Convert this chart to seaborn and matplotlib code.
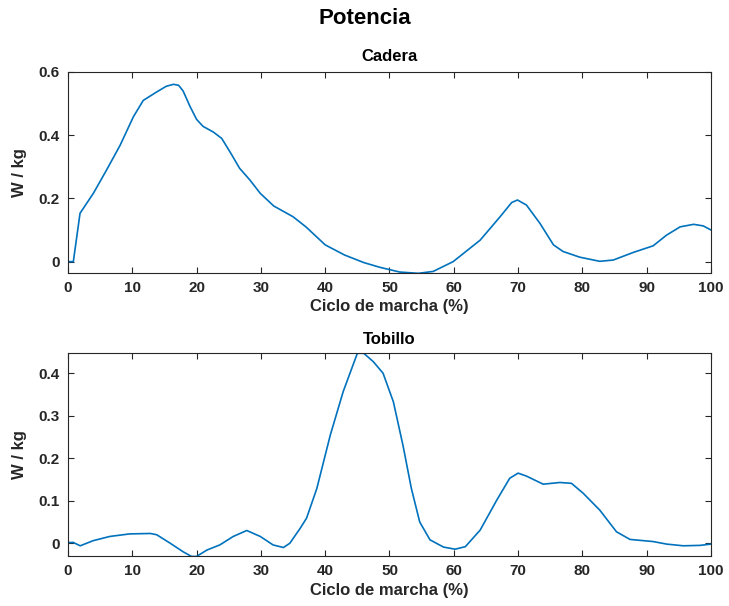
import matplotlib
matplotlib.use("Agg")
import matplotlib.pyplot as plt
import seaborn as sns
import pandas as pd

# Cadera (hip) power
cadera_x = [0, 0.83, 1.87, 3.94, 6.0, 8.1, 10.16, 11.7, 13.8, 15.3, 16.4, 17.2, 17.9, 19.0, 20.0, 21.0, 22.6,
            23.9, 25.2, 26.7, 28.3, 29.9, 32, 35, 37, 40, 43, 46, 48.5, 51.6, 54.5, 56.8, 59.9, 64.1, 67.2,
            69.0, 69.9, 71.3, 73.4, 75.5, 77.0, 79.6, 82.7, 84.8, 87.9, 91.0, 93.1, 95.2, 97.3, 98.8, 100]
cadera_y = [0.0, 0.0, 0.153, 0.216, 0.29, 0.368, 0.458, 0.51, 0.537, 0.555, 0.561, 0.558, 0.54, 0.49, 0.45,
            0.428, 0.41, 0.39, 0.347, 0.295, 0.258, 0.216, 0.176, 0.142, 0.11, 0.053, 0.021, -0.003, -0.018,
            -0.033, -0.037, -0.031, 0.0, 0.068, 0.142, 0.187, 0.195, 0.179, 0.121, 0.053, 0.032, 0.014, 0.001,
            0.005, 0.029, 0.05, 0.084, 0.11, 0.118, 0.113, 0.10]

# Tobillo (ankle) power
tobillo_x = [0, 0.8, 1.9, 3.9, 6.5, 9.6, 12.8, 13.8, 15.9, 17.9, 19.2, 20.0, 21.6, 23.6, 25.7, 27.8, 29.9,
             31.9, 33.5, 34.5, 36.1, 37.1, 38.7, 40.8, 42.8, 45.0, 46.0, 47.5, 49.0, 50.6, 52.1, 53.4, 54.7,
             56.3, 58.4, 60.2, 61.8, 64.1, 66.7, 68.7, 70.0, 71.3, 73.9, 76.5, 78.3, 80.1, 82.7, 85.3, 87.4,
             91.0, 93.1, 95.7, 98.3, 100]
tobillo_y = [0.0015, 0.002, -0.006, 0.006, 0.016, 0.022, 0.023, 0.02, 0.0, -0.02, -0.031, -0.031, -0.016,
             -0.004, 0.016, 0.03, 0.016, -0.004, -0.01, 0.0, 0.035, 0.059, 0.129, 0.255, 0.357, 0.447, 0.447,
             0.427, 0.40, 0.333, 0.23, 0.129, 0.05, 0.008, -0.009, -0.014, -0.008, 0.031, 0.102, 0.153, 0.165,
             0.158, 0.139, 0.143, 0.141, 0.118, 0.078, 0.027, 0.009, 0.004, -0.002, -0.006, -0.005, -0.002]

titles = ["Cadera", "Tobillo"]
yticks_top = [0, 0.2, 0.4, 0.6]
yticks_bot = [0, 0.1, 0.2, 0.3, 0.4]
xticks = [0, 10, 20, 30, 40, 50, 60, 70, 80, 90, 100]

sns.set_style("ticks")
plt.rcParams["font.family"] = ["Liberation Sans", "DejaVu Sans"]
plt.rcParams["font.weight"] = "bold"

dark = "#262626"
line_color = "#0072BD"

fig = plt.figure(figsize=(7.29, 6.06), dpi=100)
ax1 = fig.add_axes([68 / 729, 1 - 273 / 606, (711 - 68) / 729, (273 - 72) / 606])
ax2 = fig.add_axes([68 / 729, 1 - 556 / 606, (711 - 68) / 729, (556 - 353.3) / 606])

df1 = pd.DataFrame({"x": cadera_x, "y": cadera_y})
df2 = pd.DataFrame({"x": tobillo_x, "y": tobillo_y})

sns.lineplot(data=df1, x="x", y="y", ax=ax1, color=line_color, linewidth=1.2)
sns.lineplot(data=df2, x="x", y="y", ax=ax2, color=line_color, linewidth=1.2)

ax1.set_ylim(-0.036, 0.6)
ax2.set_ylim(-0.030, 0.447)
ax1.set_yticks(yticks_top)
ax1.set_yticklabels(["0", "0.2", "0.4", "0.6"])
ax2.set_yticks(yticks_bot)
ax2.set_yticklabels(["0", "0.1", "0.2", "0.3", "0.4"])

for ax, t, pad in zip([ax1, ax2], titles, [8, 7]):
    ax.set_xlim(0, 100)
    ax.set_xticks(xticks)
    ax.set_title(t, fontsize=12, fontweight="bold", color="black", pad=pad)
    ax.set_xlabel("Ciclo de marcha (%)", fontsize=12, fontweight="bold", color=dark, labelpad=3)
    ax.set_ylabel("W / kg", fontsize=12, fontweight="bold", color=dark, labelpad=8)
    ax.tick_params(direction="in", top=True, right=True, length=4, width=0.8,
                   labelsize=11, colors=dark, pad=6)
    for lab in ax.get_xticklabels() + ax.get_yticklabels():
        lab.set_fontweight("bold")
    for s in ax.spines.values():
        s.set_visible(True)
        s.set_color(dark)
        s.set_linewidth(0.8)

fig.suptitle("Potencia", fontsize=16, fontweight="bold", color="black", y=1 - 18 / 606, va="center")

fig.savefig("out.png", dpi=100)
